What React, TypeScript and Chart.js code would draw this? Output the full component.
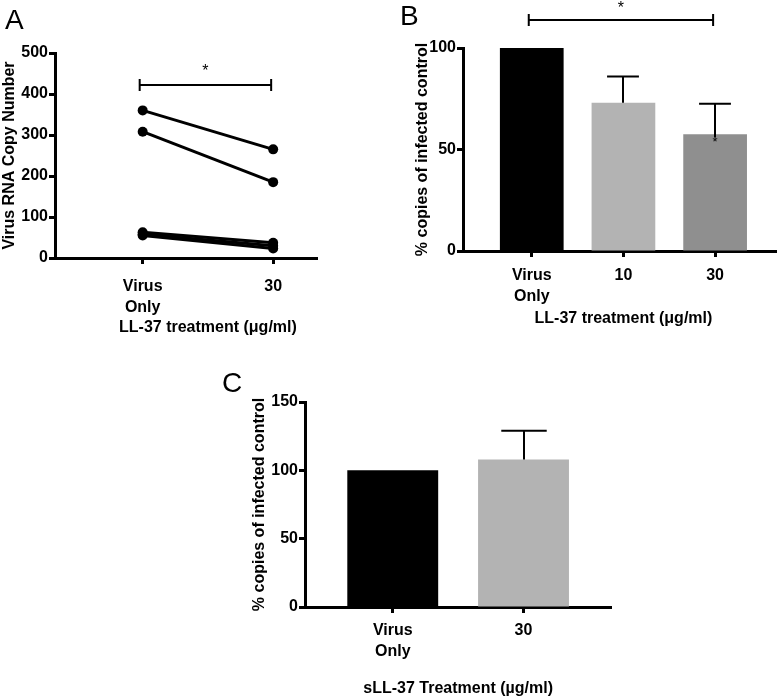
import React, { useEffect, useRef } from "react";
import { Chart, registerables } from "chart.js";
Chart.register(...registerables);

const FONT = "'Liberation Sans', Arial, Helvetica, sans-serif";

// ---------- Panel A ----------
const catsA: (string | string[])[] = [["Virus", "Only"], "30"];
const virusOnlyA = [360, 308, 63, 58, 55];
const treatedA = [265, 185, 37, 30, 23];
const yTicksA = [0, 100, 200, 300, 400, 500];
const sigA = { from: 0, to: 1, y: 423, starY: 466 };
const yTitleA = "Virus RNA Copy Number";
const xTitleA = "LL-37 treatment (\u03bcg/ml)";

// ---------- Panel B ----------
const catsB: (string | string[])[] = [["Virus", "Only"], "10", "30"];
const meansB = [100, 73, 57.5];
const errB = [0, 13, 15];
const colorsB = ["#000000", "#b3b3b3", "#8f8f8f"];
const innerStarsB = ["", "", "*"];
const yTicksB = [0, 50, 100];
const sigB = { from: 0, to: 2, y: 114, starY: 121.5 };
const yTitleB = "% copies of infected control";
const xTitleB = "LL-37 treatment (\u03bcg/ml)";

// ---------- Panel C ----------
const catsC: (string | string[])[] = [["Virus", "Only"], "30"];
const meansC = [100, 108];
const errC = [0, 21];
const colorsC = ["#000000", "#b3b3b3"];
const yTicksC = [0, 50, 100, 150];
const yTitleC = "% copies of infected control";
const xTitleC = "sLL-37 Treatment (\u00b5g/ml)";

const boldFont = { family: FONT, size: 16, weight: "bold" as const };

const decoPlugin = {
  id: "deco",
  afterDraw(chart: any, _args: any, opts: any) {
    const { ctx, chartArea } = chart;
    const xs = chart.scales.x;
    const ys = chart.scales.y;
    ctx.save();
    ctx.strokeStyle = "#000";
    ctx.fillStyle = "#000";
    // error bars
    if (opts.means) {
      const meta = chart.getDatasetMeta(0);
      opts.means.forEach((m: number, i: number) => {
        const e = opts.errs[i];
        const el = meta.data[i];
        const x = Math.round(el.x);
        const half = el.width / 4;
        const yb = ys.getPixelForValue(m);
        if (e) {
          const yt = ys.getPixelForValue(m + e);
          ctx.lineWidth = 2;
          ctx.beginPath();
          ctx.moveTo(x, yb + (opts.innerStars && opts.innerStars[i] ? 3 : 0));
          ctx.lineTo(x, yt);
          ctx.moveTo(x - half, yt);
          ctx.lineTo(x + half, yt);
          ctx.stroke();
        }
        if (opts.innerStars && opts.innerStars[i]) {
          ctx.font = `13px ${FONT}`;
          ctx.textAlign = "center";
          ctx.textBaseline = "alphabetic";
          ctx.fillText(opts.innerStars[i], x, yb + 4 + 7.4);
        }
      });
    }
    // significance bar
    if (opts.sig) {
      const s = opts.sig;
      const x1 = xs.getPixelForValue(s.from) - 3;
      const x2 = xs.getPixelForValue(s.to) - 2;
      const y = Math.round(ys.getPixelForValue(s.y));
      ctx.lineWidth = 2;
      ctx.beginPath();
      ctx.moveTo(x1, y);
      ctx.lineTo(x2, y);
      ctx.moveTo(x1, y - 6);
      ctx.lineTo(x1, y + 6);
      ctx.moveTo(x2, y - 6);
      ctx.lineTo(x2, y + 6);
      ctx.stroke();
      ctx.font = `16px ${FONT}`;
      ctx.textAlign = "center";
      ctx.textBaseline = "alphabetic";
      ctx.fillText("*", (x1 + x2) / 2, ys.getPixelForValue(s.starY) + 9);
    }
    // x title centred between first and last category
    if (opts.xTitle) {
      const n = opts.nCats;
      const cx = (xs.getPixelForValue(0) + xs.getPixelForValue(n - 1)) / 2;
      ctx.font = `bold 16px ${FONT}`;
      ctx.textAlign = "center";
      ctx.textBaseline = "middle";
      ctx.fillText(opts.xTitle, cx, chartArea.bottom + opts.xTitleOffset);
    }
    ctx.restore();
  },
};

function yScale(ticks: number[], title: string, titlePad: number, width: number) {
  return {
    type: "linear",
    min: ticks[0],
    max: ticks[ticks.length - 1],
    afterBuildTicks: (s: any) => {
      s.ticks = ticks.map((v) => ({ value: v }));
    },
    ticks: { color: "#000", font: boldFont, padding: 1 },
    grid: {
      display: true,
      drawOnChartArea: false,
      drawTicks: true,
      tickLength: 6,
      tickWidth: 3,
      tickColor: "#000",
      offset: false,
    },
    border: { display: true, color: "#000", width: 3 },
    title: {
      display: true,
      text: title,
      color: "#000",
      font: boldFont,
      padding: { top: titlePad, bottom: 0 },
    },
    afterFit: (s: any) => {
      s.width = width;
    },
  };
}

function xScale(labels: (string | string[])[], min: number, max: number, height: number, pad: number) {
  return {
    type: "linear",
    min,
    max,
    offset: false,
    afterBuildTicks: (s: any) => {
      s.ticks = labels.map((_, i) => ({ value: i }));
    },
    ticks: {
      color: "#000",
      font: { ...boldFont, lineHeight: 1.3 },
      padding: pad,
      autoSkip: false,
      maxRotation: 0,
      callback: (v: number) => labels[v],
    },
    grid: {
      display: true,
      drawOnChartArea: false,
      drawTicks: true,
      tickLength: 6,
      tickWidth: 3,
      tickColor: "#000",
      offset: false,
    },
    border: { display: true, color: "#000", width: 3 },
    title: { display: false },
    afterFit: (s: any) => {
      s.height = height;
    },
  };
}

function buildA(): any {
  return {
    type: "line",
    data: {
      datasets: virusOnlyA.map((v, i) => ({
        data: [
          { x: 0, y: v },
          { x: 1, y: treatedA[i] },
        ],
        borderColor: "#000",
        backgroundColor: "#000",
        borderWidth: 3,
        pointRadius: 5,
        pointBackgroundColor: "#000",
        pointBorderWidth: 0,
        clip: false,
      })),
    },
    options: {
      responsive: false,
      animation: false,
      layout: { padding: { top: 53, left: 0, right: 4, bottom: 0 } },
      plugins: {
        legend: { display: false },
        tooltip: { enabled: false },
        deco: { sig: sigA, xTitle: xTitleA, xTitleOffset: 70, nCats: catsA.length },
      },
      scales: {
        x: xScale(catsA, -0.672, 1.336, 87, 12.6),
        y: yScale(yTicksA, yTitleA, 0, 55),
      },
    },
    plugins: [decoPlugin],
  };
}

function buildBar(cats: any[], means: number[], errs: number[], colors: string[], yTicks: number[], yTitle: string, titlePad: number, yWidth: number, xmin: number, xmax: number, xHeight: number, xPad: number, pad: any, deco: any): any {
  return {
    type: "bar",
    data: {
      datasets: [
        {
          data: means.map((y, i) => ({ x: i, y })),
          backgroundColor: colors,
          borderWidth: 0,
          barPercentage: 0.695,
          categoryPercentage: 1,
        },
      ],
    },
    options: {
      responsive: false,
      animation: false,
      layout: { padding: pad },
      plugins: {
        legend: { display: false },
        tooltip: { enabled: false },
        deco: { means, errs, nCats: cats.length, ...deco },
      },
      scales: {
        x: xScale(cats, xmin, xmax, xHeight, xPad),
        y: yScale(yTicks, yTitle, titlePad, yWidth),
      },
    },
    plugins: [decoPlugin],
  };
}

function buildB(): any {
  return buildBar(catsB, meansB, errB, colorsB, yTicksB, yTitleB, 33, 83, -0.75, 2.675, 89, 8, { top: 48, left: 0, right: 0, bottom: 0 }, {
    sig: sigB,
    innerStars: innerStarsB,
    xTitle: xTitleB,
    xTitleOffset: 67.3,
  });
}

function buildC(): any {
  return buildBar(catsC, meansC, errC, colorsC, yTicksC, yTitleC, 30, 85, -0.671, 1.669, 91, 7.6, { top: 42, left: 0, right: 9, bottom: 0 }, {
    xTitle: xTitleC,
    xTitleOffset: 81.3,
  });
}

function Panel({ build, left, top, width, height }: { build: () => any; left: number; top: number; width: number; height: number }) {
  const ref = useRef<HTMLCanvasElement | null>(null);
  useEffect(() => {
    if (!ref.current) return;
    const chart = new Chart(ref.current, build());
    return () => chart.destroy();
  }, []);
  return (
    <canvas
      ref={ref}
      width={width}
      height={height}
      style={{ position: "absolute", left, top, width, height, display: "block" }}
    />
  );
}

const letterStyle = (left: number, top: number): React.CSSProperties => ({
  position: "absolute",
  left,
  top,
  fontFamily: FONT,
  fontSize: 28,
  lineHeight: "28px",
  color: "#000",
});

export default function App() {
  return (
    <div style={{ position: "absolute", left: 0, top: 0, width: 777, height: 698, background: "#fff", overflow: "hidden" }}>
      <Panel build={buildA} left={0} top={0} width={322} height={345} />
      <Panel build={buildB} left={380} top={0} width={397} height={340} />
      <Panel build={buildC} left={220} top={360} width={400} height={338} />
      <div style={letterStyle(5, 6)}>A</div>
      <div style={letterStyle(400, 2)}>B</div>
      <div style={letterStyle(222, 369)}>C</div>
    </div>
  );
}
